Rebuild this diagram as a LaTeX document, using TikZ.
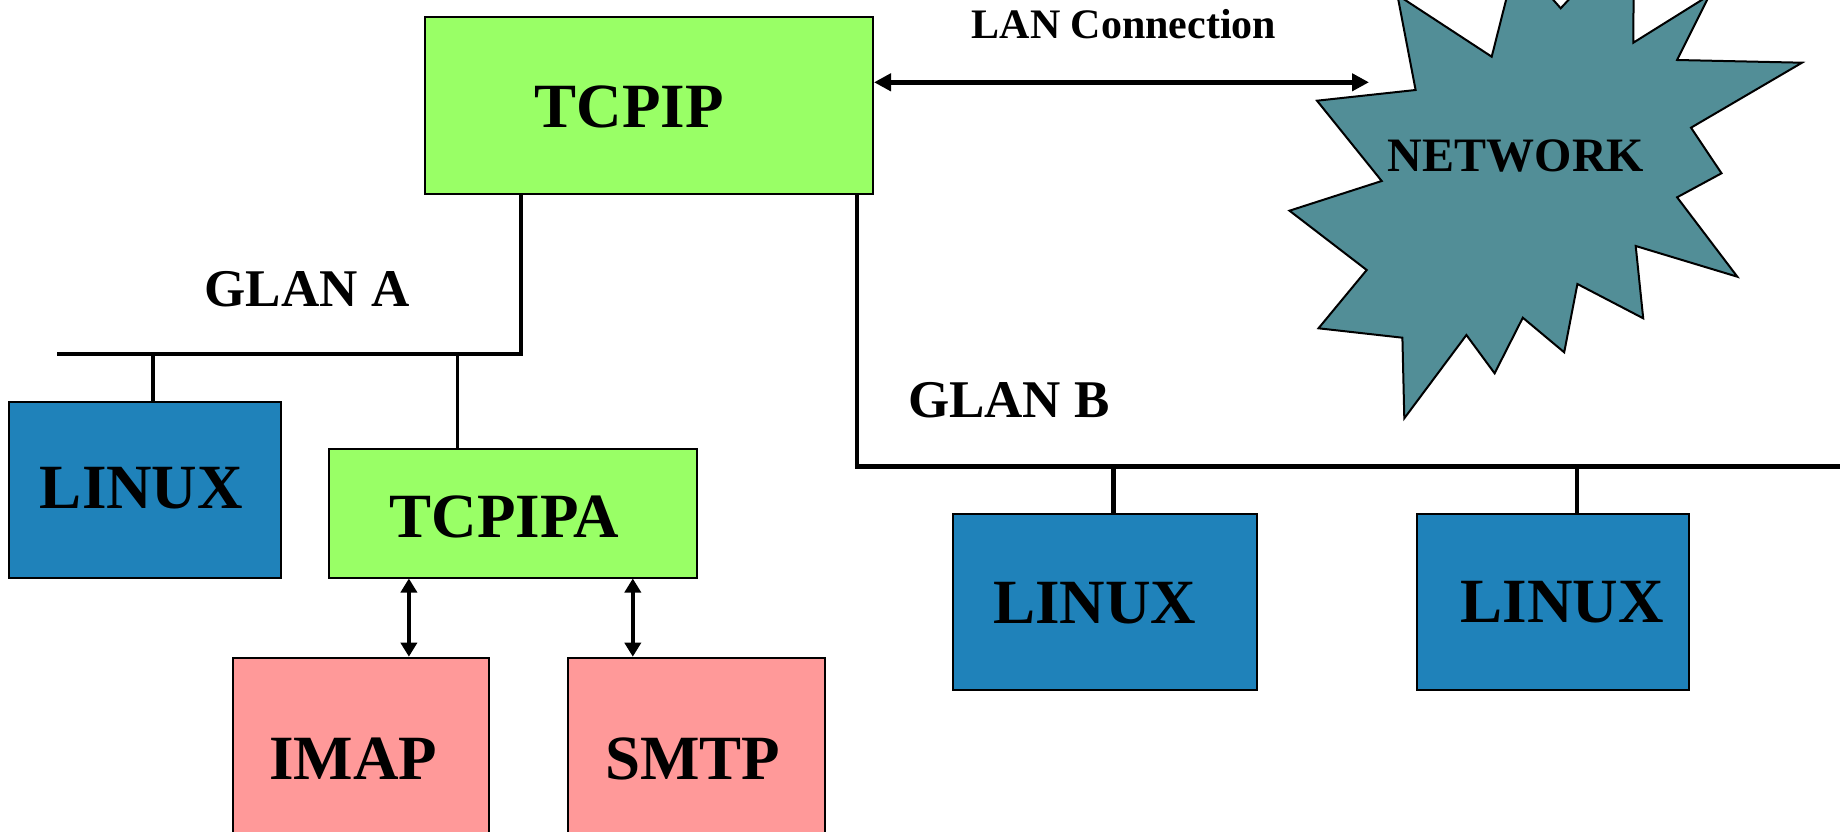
\documentclass[tikz,border=0pt]{standalone}
\usepackage{fontspec}
\setmainfont{Liberation Serif}
\usetikzlibrary{arrows.meta}
\definecolor{boxgreen}{HTML}{99FF66}
\definecolor{boxblue}{HTML}{1F82BA}
\definecolor{boxpink}{HTML}{FF9999}
\definecolor{netteal}{HTML}{528E97}
\begin{document}
\begin{tikzpicture}[x=1pt,y=-1pt,
  box/.style={draw=black, line width=2pt, rectangle, inner sep=0pt},
  gbox/.style={box, fill=boxgreen},
  bbox/.style={box, fill=boxblue},
  pbox/.style={box, fill=boxpink},
  big/.style={font=\bfseries\fontsize{63}{70}\selectfont, anchor=base, inner sep=0pt},
  mid/.style={font=\bfseries\fontsize{53}{60}\selectfont, anchor=base, inner sep=0pt},
  small/.style={font=\bfseries\fontsize{42}{48}\selectfont, anchor=base, inner sep=0pt},
  netlbl/.style={font=\bfseries\fontsize{48}{54}\selectfont, anchor=base, inner sep=0pt},
  bus/.style={line width=4pt},
  tap/.style={line width=4.5pt},
  thintap/.style={line width=3pt},
  biarrow/.style={line width=3.5pt, {Triangle[length=14pt,width=16pt]}-{Triangle[length=14pt,width=16pt]}},
  lanarrow/.style={line width=5pt, {Triangle[length=17pt,width=17pt]}-{Triangle[length=17pt,width=17pt]}}
]
\useasboundingbox (0,0) rectangle (1840,832);
\clip (0,0) rectangle (1840,832);

% network cloud (star)
\filldraw[fill=netteal, draw=black, line width=2pt, line join=miter]
  (1802.0,62.7) -- (1691.0,127.7) -- (1721.5,173.3) -- (1677.1,197.3) -- (1737.3,276.7)
  -- (1635.7,246.0) -- (1643.2,318.3) -- (1577.4,284.0) -- (1564.2,352.3) -- (1522.8,317.7)
  -- (1494.6,373.3) -- (1466.4,335.0) -- (1404.3,418.3) -- (1402.4,337.7) -- (1318.5,328.3)
  -- (1366.7,270.0) -- (1289.5,210.7) -- (1381.7,181.0) -- (1317.0,100.7) -- (1415.6,90.0)
  -- (1397.4,-5) -- (1491.7,56.7) -- (1516.6,-41.7) -- (1560.7,8.3) -- (1634,-71)
  -- (1633.3,42.7) -- (1709.4,-4.8) -- (1677.1,60.0) -- cycle;
\coordinate (net) at (1369,82.3);

% boxes
\node[gbox, minimum width=448pt, minimum height=176pt] (tcpip) at (649,105.5) {};
\node[gbox, minimum width=368.4pt, minimum height=128.2pt] (tcpipa) at (512.8,513.4) {};
\node[bbox, minimum width=272.5pt, minimum height=176pt] (linux1) at (144.75,489.5) {};
\node[bbox, minimum width=304.6pt, minimum height=176pt] (linux2) at (1105,602) {};
\node[bbox, minimum width=272pt, minimum height=175.5pt] (linux3) at (1553.3,601.75) {};
\node[pbox, minimum width=256.8pt, minimum height=180pt] (imap) at (361,747.7) {};
\node[pbox, minimum width=256.7pt, minimum height=180pt] (smtp) at (696.75,747.7) {};

% texts
\node[big] (tTCPIP) at (629,128) {TCPIP};
\node[big] (tTCPIPA) at (504.5,537) {TCPIPA};
\node[big] (tL1) at (141.5,508.3) {LINUX};
\node[big] (tL2) at (1094.7,623.3) {LINUX};
\node[big] (tL3) at (1562,622.7) {LINUX};
\node[big] (tIMAP) at (353,779) {IMAP};
\node[big] (tSMTP) at (692.7,779) {SMTP};
\node[mid] (tGA) at (307,306) {GLAN A};
\node[mid] (tGB) at (1009,417.3) {GLAN B};
\node[small] (tLAN) at (1124,38.5) {LAN Connection};
\node[netlbl] (tNET) at (1516,171.7) {NETWORK};

% GLAN A bus
\coordinate (gaL) at (57,354);
\coordinate (gaR) at (521,354);
\coordinate (gaT1) at (152.8,354);
\coordinate (gaT2) at (457,354);
\draw[tap] (tcpip.south -| gaR) -- (gaR);
\draw[bus, line width=3.5pt] (gaL) -- ([xshift=2.25pt]gaR);
\draw[tap] (gaT1) -- (gaT1 |- linux1.north);
\draw[thintap] (gaT2) -- (gaT2 |- tcpipa.north);

% GLAN B bus
\coordinate (gbL) at (857,466);
\coordinate (gbR) at (1845,466);
\coordinate (gbT1) at (1113.3,466);
\coordinate (gbT2) at (1577,466);
\draw[tap] (tcpip.south -| gbL) -- (gbL);
\draw[bus, line width=5pt] ([xshift=-2.25pt]gbL) -- (gbR);
\draw[tap] (gbT1) -- (gbT1 |- linux2.north);
\draw[tap] (gbT2) -- (gbT2 |- linux3.north);

% arrows
\coordinate (lanY) at (0,82.3);
\draw[lanarrow] (tcpip.east |- lanY) -- (net);
\coordinate (ax1) at (408.9,0);
\coordinate (ax2) at (632.8,0);
\draw[biarrow] (tcpipa.south -| ax1) -- (imap.north -| ax1);
\draw[biarrow] (tcpipa.south -| ax2) -- (smtp.north -| ax2);
\end{tikzpicture}
\end{document}
